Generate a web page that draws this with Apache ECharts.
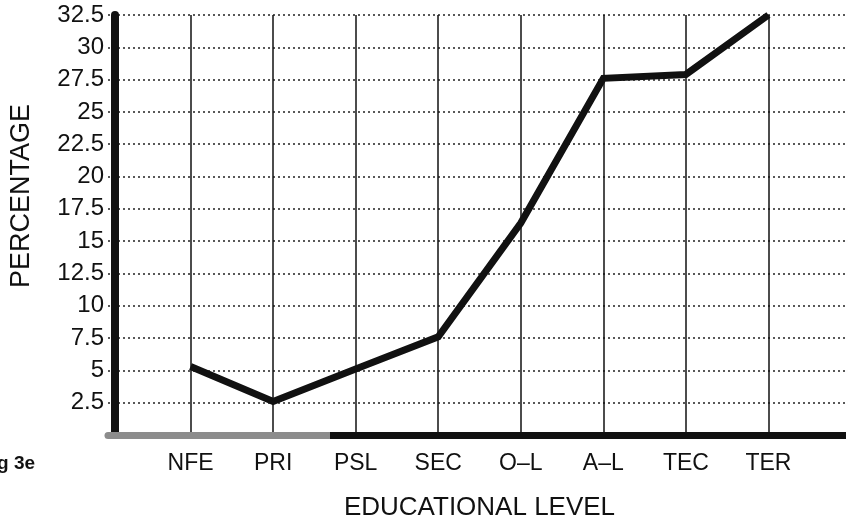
<!DOCTYPE html>
<html>
<head>
<meta charset="utf-8">
<script src="https://cdn.jsdelivr.net/npm/echarts@6/dist/echarts.min.js"></script>
<style>
  html, body { margin: 0; padding: 0; background: #fff; overflow: hidden; }
</style>
</head>
<body>
<!-- a bit wider than the window: the grid runs off the right edge like the scan -->
<div id="LineChart" style="width: 854px; height: 526px;"></div>
<script>
// educational levels along the bottom
const levels = ['NFE', 'PRI', 'PSL', 'SEC', 'O–L', 'A–L', 'TEC', 'TER'];
// percentage
const percentage = [5.3, 2.6, 5.1, 7.6, 16.4, 27.6, 27.9, 32.5];
// y ticks go 0 .. 32.5 in steps of 2.5
const yMin = 0;
const yMax = 32.5;
const yStep = 2.5;

// one empty slot each side so the first level sits away from the y axis
const axisData = [''].concat(levels, ['']);
const lineData = [null].concat(percentage, [null]);

const chart = echarts.init(document.getElementById('LineChart'), null, { renderer: 'canvas' });
const font = 'Liberation Sans, Arial, Helvetica, sans-serif';

const option = {
  backgroundColor: '#fff',
  animation: false,
  title: {
    text: 'g 3e',
    left: -3,
    top: 454,
    padding: 0,
    textStyle: { fontFamily: font, fontSize: 19, fontWeight: 'bold', color: '#111' }
  },
  grid: {
    left: 106,
    right: 0,
    top: 15,
    bottom: 87
  },
  xAxis: {
    type: 'category',
    data: axisData,
    boundaryGap: false,
    name: 'EDUCATIONAL LEVEL',
    nameLocation: 'middle',
    nameGap: 60,
    nameTextStyle: { fontFamily: font, fontSize: 26, color: '#111' },
    axisLine: {
      lineStyle: {
        width: 7,
        color: new echarts.graphic.LinearGradient(0, 0, 1, 0, [
          { offset: 0, color: '#8c8c8c' },
          { offset: 0.3, color: '#8c8c8c' },
          { offset: 0.3, color: '#111' },
          { offset: 1, color: '#111' }
        ])
      }
    },
    axisTick: { show: false },
    axisLabel: {
      interval: 0,
      margin: 17,
      fontFamily: font,
      fontSize: 23,
      color: '#111'
    },
    splitLine: {
      show: true,
      interval: function (index) {
        return index > 0 && index < axisData.length - 1;
      },
      lineStyle: { color: '#111', width: 1.5, type: 'solid' }
    }
  },
  yAxis: {
    type: 'value',
    min: yMin,
    max: yMax,
    interval: yStep,
    offset: -7,
    name: 'PERCENTAGE',
    nameLocation: 'middle',
    nameGap: 80,
    nameTextStyle: { fontFamily: font, fontSize: 27, color: '#111', padding: [0, 0, 0, 58] },
    axisLine: { show: true, lineStyle: { width: 8, color: '#111' } },
    axisTick: { show: false },
    axisLabel: {
      margin: 11,
      fontFamily: font,
      fontSize: 24,
      color: '#111',
      formatter: function (v) {
        return v === 0 ? '' : String(v);
      }
    },
    splitLine: {
      show: true,
      lineStyle: { color: '#222', width: 1.5, type: [2, 3] }
    }
  },
  series: [
    {
      name: 'Percentage',
      type: 'line',
      data: lineData,
      symbol: 'none',
      connectNulls: false,
      lineStyle: { color: '#111', width: 7, join: 'miter' },
      z: 5
    }
  ]
};
chart.setOption(option);
</script>
</body>
</html>
